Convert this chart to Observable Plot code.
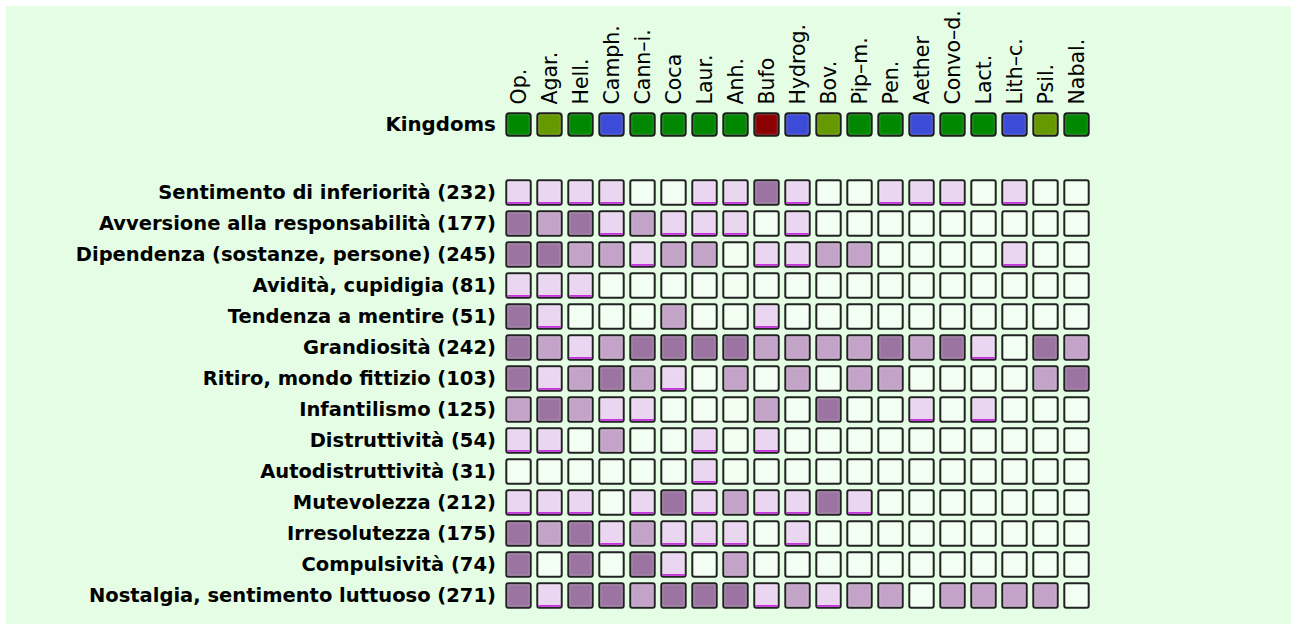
<!DOCTYPE html>
<html>
<head>
<meta charset="utf-8">
<script src="https://cdn.jsdelivr.net/npm/d3@7"></script>
<script src="https://cdn.jsdelivr.net/npm/@observablehq/plot@0.6"></script>
<style>
  html, body { margin: 0; padding: 0; background: #ffffff; width: 1291px; height: 624px; overflow: hidden; }
  #panel { position: absolute; left: 6px; top: 6px; width: 1285px; height: 618px; background: #e5fde5; }
  #charts { position: absolute; left: 0; top: 0; }
  #charts svg { display: block; }
</style>
</head>
<body>
<div id="panel"></div>
<div id="charts"></div>
<script>
// Column categories (remedies) and their kingdom
const remedies = ["Op.", "Agar.", "Hell.", "Camph.", "Cann–i.", "Coca", "Laur.", "Anh.", "Bufo", "Hydrog.", "Bov.", "Pip–m.", "Pen.", "Aether", "Convo–d.", "Lact.", "Lith–c.", "Psil.", "Nabal."];
const remedyKingdoms = ["Piante", "Funghi", "Piante", "Minerali", "Piante", "Piante", "Piante", "Piante", "Animali", "Minerali", "Funghi", "Piante", "Piante", "Minerali", "Piante", "Piante", "Minerali", "Funghi", "Piante"];
const kingdomNames = ["Piante", "Funghi", "Minerali", "Animali"];
const kingdomColors = ["#008800", "#669900", "#3c4bd8", "#8b0000"];

// Row categories (symptoms) with rubric sizes
const symptoms = ["Sentimento di inferiorità", "Avversione alla responsabilità", "Dipendenza (sostanze, persone)", "Avidità, cupidigia", "Tendenza a mentire", "Grandiosità", "Ritiro, mondo fittizio", "Infantilismo", "Distruttività", "Autodistruttività", "Mutevolezza", "Irresolutezza", "Compulsività", "Nostalgia, sentimento luttuoso"];
const rubricCounts = [232, 177, 245, 81, 51, 242, 103, 125, 54, 31, 212, 175, 74, 271];

// Grade (0 = absent, 1..3) for each symptom (row) and remedy (column)
const grades = [
  [1,1,1,1,0,0,1,1,3,1,0,0,1,1,1,0,1,0,0],
  [3,2,3,1,2,1,1,1,0,1,0,0,0,0,0,0,0,0,0],
  [3,3,2,2,1,2,2,0,1,1,2,2,0,0,0,0,1,0,0],
  [1,1,1,0,0,0,0,0,0,0,0,0,0,0,0,0,0,0,0],
  [3,1,0,0,0,2,0,0,1,0,0,0,0,0,0,0,0,0,0],
  [3,2,1,2,3,3,3,3,2,2,2,2,3,2,3,1,0,3,2],
  [3,1,2,3,2,1,0,2,0,2,0,2,2,0,0,0,0,2,3],
  [2,3,2,1,1,0,0,0,2,0,3,0,0,1,0,1,0,0,0],
  [1,1,0,2,0,0,1,0,1,0,0,0,0,0,0,0,0,0,0],
  [0,0,0,0,0,0,1,0,0,0,0,0,0,0,0,0,0,0,0],
  [1,1,1,0,1,3,1,2,1,1,3,1,0,0,0,0,0,0,0],
  [3,2,3,1,2,1,1,1,0,1,0,0,0,0,0,0,0,0,0],
  [3,0,3,0,3,1,0,2,0,0,0,0,0,0,0,0,0,0,0],
  [3,1,3,3,2,3,3,3,1,2,1,2,2,0,2,2,2,2,0]
];
const gradeLevels = [0, 1, 2, 3];
const gradeColors = ["#f2fff2", "#ebd6f1", "#c4a3c9", "#9c74a1"];

const kingdomLabel = "Kingdoms";

// ---- derived tables for the library ----
const kingdomRows = remedies.map((r, i) => ({remedy: r, kingdom: remedyKingdoms[i], row: kingdomLabel}));
const cells = [];
symptoms.forEach((s, i) => remedies.forEach((r, j) => cells.push({symptom: s, remedy: r, grade: grades[i][j]})));
const countOf = new Map(symptoms.map((s, i) => [s, rubricCounts[i]]));

const FONT = "'DejaVu Sans', 'Verdana', sans-serif";
const W = 1291;
const ML = 503.4, MR = W - (503.4 + 19 * 31);
const HEADER_H = 140;
const INSET = 3.3;

const header = Plot.plot({
  width: W,
  height: HEADER_H,
  marginLeft: ML,
  marginRight: MR,
  marginTop: 110,
  marginBottom: 1,
  x: {domain: remedies, padding: 0, label: null},
  y: {domain: [kingdomLabel], padding: 0, label: null},
  color: {domain: kingdomNames, range: kingdomColors},
  style: {background: "transparent", fontFamily: FONT, fontSize: "19px", color: "#000", overflow: "visible"},
  marks: [
    Plot.axisX({anchor: "top", tickSize: 0, tickPadding: 6, tickRotate: -90, fontSize: 20.5, label: null}),
    Plot.axisY({anchor: "left", tickSize: 0, tickPadding: 8, fontSize: 19.8, fontWeight: "bold", label: null}),
    Plot.cell(kingdomRows, {x: "remedy", y: "row", fill: "kingdom", stroke: "#1e1e1e", strokeWidth: 2, rx: 3, inset: INSET}),
    Plot.cell(kingdomRows, {x: "remedy", y: "row", fill: "none", stroke: "#ffffff", strokeOpacity: 0.18, strokeWidth: 1, rx: 2, inset: INSET + 1.5})
  ]
});

const GRID_H = 624 - HEADER_H;
const grid = Plot.plot({
  width: W,
  height: GRID_H,
  marginLeft: ML,
  marginRight: MR,
  marginTop: 177 - HEADER_H,
  marginBottom: GRID_H - (177 - HEADER_H + 14 * 31),
  x: {domain: remedies, padding: 0, label: null, axis: null},
  y: {domain: symptoms, padding: 0, label: null},
  color: {domain: gradeLevels, range: gradeColors},
  style: {background: "transparent", fontFamily: FONT, fontSize: "19px", color: "#000", overflow: "visible"},
  marks: [
    Plot.axisY({anchor: "left", tickSize: 0, tickPadding: 8, fontSize: 19.5, fontWeight: "bold", label: null,
      tickFormat: d => `${d} (${countOf.get(d)})`}),
    Plot.cell(cells, {x: "remedy", y: "symptom", fill: "grade", stroke: "#222222", strokeWidth: 2, rx: 2, inset: INSET}),
    Plot.cell(cells.filter(d => d.grade > 0), {x: "remedy", y: "symptom", fill: "none", stroke: "#ffffff", strokeOpacity: 0.25, strokeWidth: 1, inset: INSET + 1.5}),
    Plot.cell(cells.filter(d => d.grade === 1), {x: "remedy", y: "symptom", fill: "#c21fdc",
      insetLeft: INSET + 1, insetRight: INSET + 1, insetTop: 31 - INSET - 1 - 1.6, insetBottom: INSET + 1})
  ]
});

const holder = document.getElementById("charts");
holder.appendChild(header);
holder.appendChild(grid);
</script>
</body>
</html>
